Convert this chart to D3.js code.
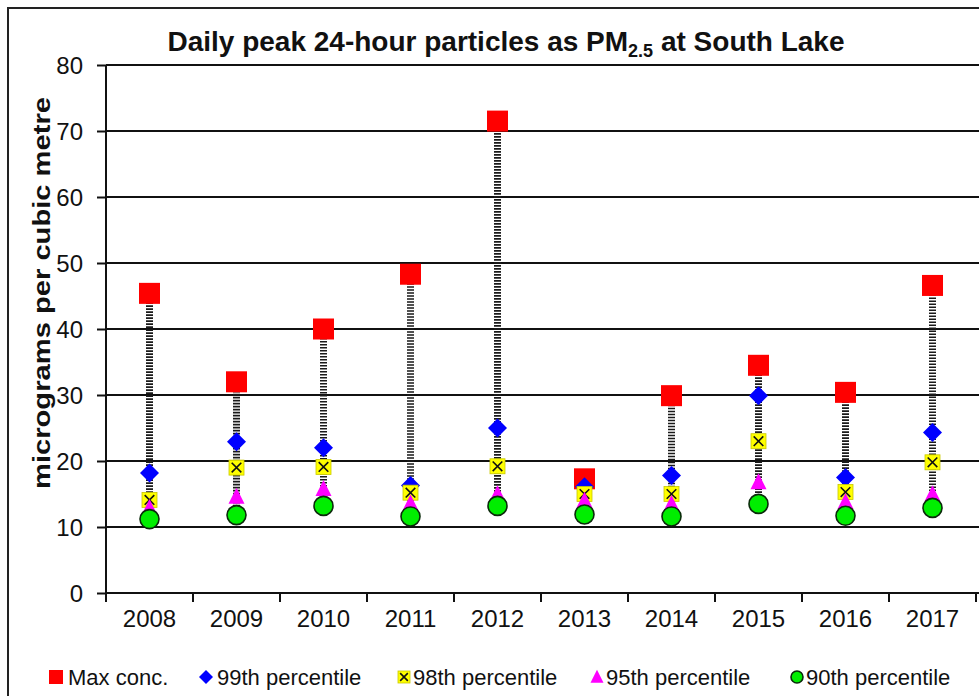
<!DOCTYPE html>
<html><head><meta charset="utf-8">
<script src="https://cdn.jsdelivr.net/npm/d3@7/dist/d3.min.js"></script>
<style>body{margin:0;background:#fff}svg{display:block}text{font-family:"Liberation Sans",Arial,sans-serif}</style>
</head><body>
<svg id="c" width="979" height="696"></svg>
<script>
const years = ["2008","2009","2010","2011","2012","2013","2014","2015","2016","2017"];
const maxConc = [45.4, 32.0, 40.0, 48.3, 71.5, 17.3, 29.9, 34.5, 30.4, 46.6];
const p99 = [18.2, 22.9, 22.0, 16.3, 25.0, 16.1, 17.8, 29.9, 17.5, 24.3];
const p98 = [14.1, 19.0, 19.1, 15.2, 19.2, 15.0, 15.0, 23.0, 15.3, 19.8];
const p95 = [12.9, 14.6, 15.8, 13.6, 15.0, 14.0, 13.5, 16.8, 13.8, 15.0];
const p90 = [11.2, 11.8, 13.2, 11.6, 13.2, 11.9, 11.6, 13.5, 11.7, 12.9];
const yTicks = [0,10,20,30,40,50,60,70,80];
const seriesNames = ["Max conc.","99th percentile","98th percentile","95th percentile","90th percentile"];

(function(){
const svg = d3.select("#c");
const pL = 106, pR = 976, pT = 65, pB = 593;
const x = d3.scaleBand().domain(years).range([pL, pR]);
const y = d3.scaleLinear().domain([0, 80]).range([pB, pT]);

// outer border
svg.append("rect").attr("x", 8).attr("y", 8).attr("width", 990).attr("height", 700)
  .attr("fill", "none").attr("stroke", "#222").attr("stroke-width", 2);

// gridlines
svg.append("g").selectAll("line").data(yTicks.filter(d => d > 0)).join("line")
  .attr("x1", pL).attr("x2", 979).attr("y1", d => y(d)).attr("y2", d => y(d))
  .attr("stroke", "#111").attr("stroke-width", 2);

// y axis
const ya = svg.append("g").attr("transform", `translate(${pL},0)`)
  .call(d3.axisLeft(y).tickValues(yTicks).tickSize(9).tickPadding(14).tickFormat(d3.format("d")));
ya.select(".domain").attr("stroke", "#111").attr("stroke-width", 2).attr("d", `M0,${pT}V${pB}`);
ya.selectAll(".tick line").attr("stroke", "#111").attr("stroke-width", 2);
ya.selectAll(".tick text").attr("font-size", 24).attr("fill", "#111").attr("dy", "0.36em");

// x axis
const xa = svg.append("g").attr("transform", `translate(0,${pB})`)
  .call(d3.axisBottom(x).tickSize(0).tickPadding(17));
xa.select(".domain").attr("stroke", "#111").attr("stroke-width", 2).attr("d", `M${pL},0H979`);
xa.selectAll(".tick text").attr("font-size", 24).attr("fill", "#111").attr("dy", "0.71em");
// boundary ticks
svg.append("g").selectAll("line").data(years.map(d => x(d)).concat([x(years[years.length-1]) + x.bandwidth()]))
  .join("line").attr("x1", d => d).attr("x2", d => d).attr("y1", pB).attr("y2", pB + 9)
  .attr("stroke", "#111").attr("stroke-width", 2);

const cx = d => x(d) + x.bandwidth() / 2;
const all = [maxConc, p99, p98, p95, p90];

// high-low connectors
svg.append("g").selectAll("line").data(years).join("line")
  .attr("x1", d => cx(d)).attr("x2", d => cx(d))
  .attr("y1", (d, i) => y(d3.max(all, s => s[i])))
  .attr("y2", (d, i) => y(d3.min(all, s => s[i])))
  .attr("stroke", "#1a1a1a").attr("stroke-width", 7).attr("stroke-dasharray", "1.6 1.4");

// markers
function drawMarker(g, type, px, py, s) {
  if (type === 0) {
    g.append("rect").attr("x", px - s/2).attr("y", py - s/2).attr("width", s).attr("height", s).attr("fill", "#ff0000");
  } else if (type === 1) {
    g.append("path").attr("d", `M${px},${py - s/2}L${px + s/2},${py}L${px},${py + s/2}L${px - s/2},${py}Z`).attr("fill", "#0000ff");
  } else if (type === 2) {
    g.append("rect").attr("x", px - s/2).attr("y", py - s/2).attr("width", s).attr("height", s)
      .attr("fill", "#ffff00").attr("stroke", "#c8c800").attr("stroke-width", 0.8);
    const k = s * 0.32;
    g.append("path").attr("d", `M${px-k},${py-k}L${px+k},${py+k}M${px+k},${py-k}L${px-k},${py+k}`)
      .attr("stroke", "#111").attr("stroke-width", 1.6);
  } else if (type === 3) {
    g.append("path").attr("d", `M${px},${py - s*0.55}L${px + s/2},${py + s*0.45}L${px - s/2},${py + s*0.45}Z`).attr("fill", "#ff00ff");
  } else {
    g.append("circle").attr("cx", px).attr("cy", py).attr("r", s/2).attr("fill", "#00ee00")
      .attr("stroke", "#0a2a0a").attr("stroke-width", 1.6);
  }
}
const sizes = [21, 19, 15, 16, 19];
all.forEach((s, si) => {
  const g = svg.append("g");
  s.forEach((v, i) => drawMarker(g, si, cx(years[i]), y(v), sizes[si]));
});

// title
const title = svg.append("text").attr("x", 506).attr("y", 51).attr("text-anchor", "middle")
  .attr("font-size", 28).attr("font-weight", "bold").attr("fill", "#111");
title.append("tspan").text("Daily peak 24-hour particles as PM");
title.append("tspan").attr("font-size", 18).attr("dy", 6).text("2.5");
title.append("tspan").attr("dy", -6).text(" at South Lake");

// y label
svg.append("text").attr("transform", "translate(50,293) rotate(-90)").attr("text-anchor", "middle")
  .attr("font-size", 23).attr("font-weight", "bold").attr("fill", "#111")
  .attr("textLength", 392).attr("lengthAdjust", "spacingAndGlyphs")
  .text("micrograms per cubic metre");

// legend
const legX = [56, 206, 404, 597, 797];
const legT = [68, 217, 413, 606, 806];
const lg = svg.append("g");
seriesNames.forEach((n, i) => {
  drawMarker(lg, i, legX[i], 677, [14, 14, 12, 13, 12][i]);
  lg.append("text").attr("x", legT[i]).attr("y", 685).attr("font-size", 22).attr("fill", "#111").text(n);
});
})();
</script>
</body></html>
